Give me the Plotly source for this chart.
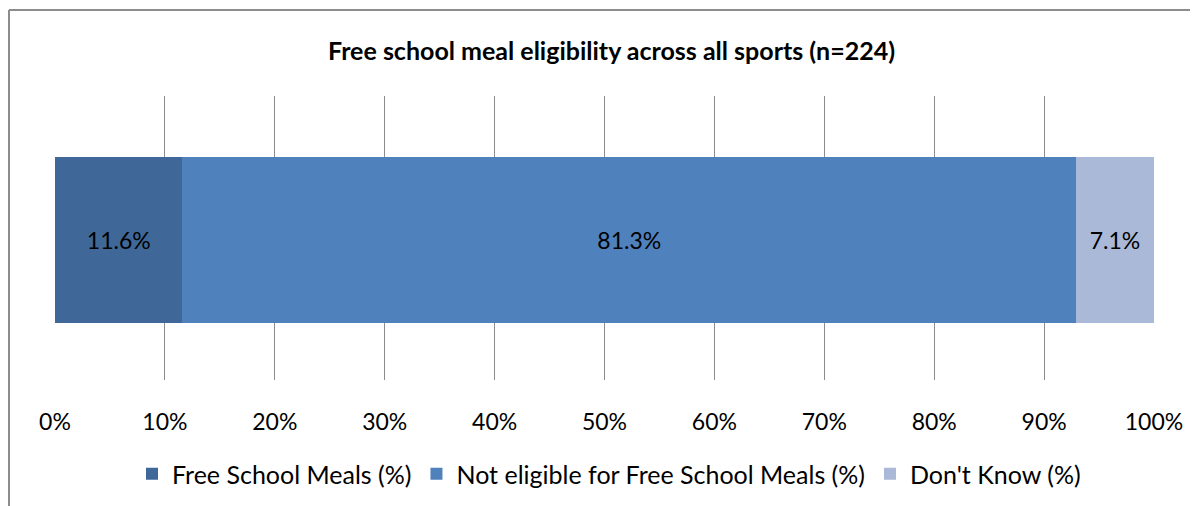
import plotly.graph_objects as go

categories = ["All sports"]
series_names = ["Free School Meals (%)", "Not eligible for Free School Meals (%)", "Don't Know (%)"]
series_values = [11.6, 81.3, 7.1]
series_colors = ["#3F6899", "#4F81BD", "#AAB9D7"]
tick_vals = [0, 10, 20, 30, 40, 50, 60, 70, 80, 90, 100]
tick_text = ["0%", "10%", "20%", "30%", "40%", "50%", "60%", "70%", "80%", "90%", "100%"]

FONT = "Lato, 'Open Sans', sans-serif"

fig = go.Figure()
for name, val, col in zip(series_names, series_values, series_colors):
    fig.add_trace(go.Bar(
        y=categories, x=[val], name=name, orientation="h",
        marker=dict(color=col, line=dict(width=0)),
        text=[f"{val:.1f}%"], textposition="inside", insidetextanchor="middle",
        textfont=dict(color="black", size=23, family=FONT),
        width=0.585, hoverinfo="skip",
    ))

OFF = 8  # page body margin
W, H = 1190, 498
L, T = 47, 88
R = W - 1146
B = H - 372
pw, ph = W - L - R, H - T - B

def px_x(p):
    return (p - OFF - L) / pw

def px_y(p):
    return 1 - (p - OFF - T) / ph

fig.update_layout(
    barmode="stack",
    width=W, height=H,
    margin=dict(l=L, r=R, t=T, b=B, pad=0, autoexpand=False),
    paper_bgcolor="white", plot_bgcolor="white",
    font=dict(family=FONT, size=23, color="black"),
    showlegend=True,
    legend=dict(orientation="h", x=px_x(609), xanchor="center", y=px_y(474), yanchor="middle",
                font=dict(size=25, family=FONT), traceorder="normal", itemwidth=30,
                bgcolor="rgba(0,0,0,0)"),
    xaxis=dict(range=[0, 100], tickvals=tick_vals, ticktext=tick_text,
               showgrid=True, gridcolor="#8c8c8c", gridwidth=1,
               zeroline=False, showline=False, ticks="", ticklabelstandoff=26,
               tickfont=dict(size=23, family=FONT), fixedrange=True, automargin=False),
    yaxis=dict(showticklabels=False, showgrid=False, zeroline=False, showline=False,
               range=[-0.493, 0.507], fixedrange=True, automargin=False),
    annotations=[dict(text="<b>Free school meal eligibility across all sports (n=224)</b>",
                      xref="paper", yref="paper", x=px_x(611), y=px_y(50),
                      xanchor="center", yanchor="middle", showarrow=False,
                      font=dict(size=25, family=FONT, color="black"))],
    shapes=[
        dict(type="line", xref="paper", yref="paper", x0=px_x(9), x1=px_x(9),
             y0=px_y(10), y1=px_y(520), line=dict(color="#8c8c8c", width=2)),
        dict(type="line", xref="paper", yref="paper", x0=px_x(9), x1=px_x(1210),
             y0=px_y(10), y1=px_y(10), line=dict(color="#8c8c8c", width=2)),
    ],
)

fig.write_html("out.html")
